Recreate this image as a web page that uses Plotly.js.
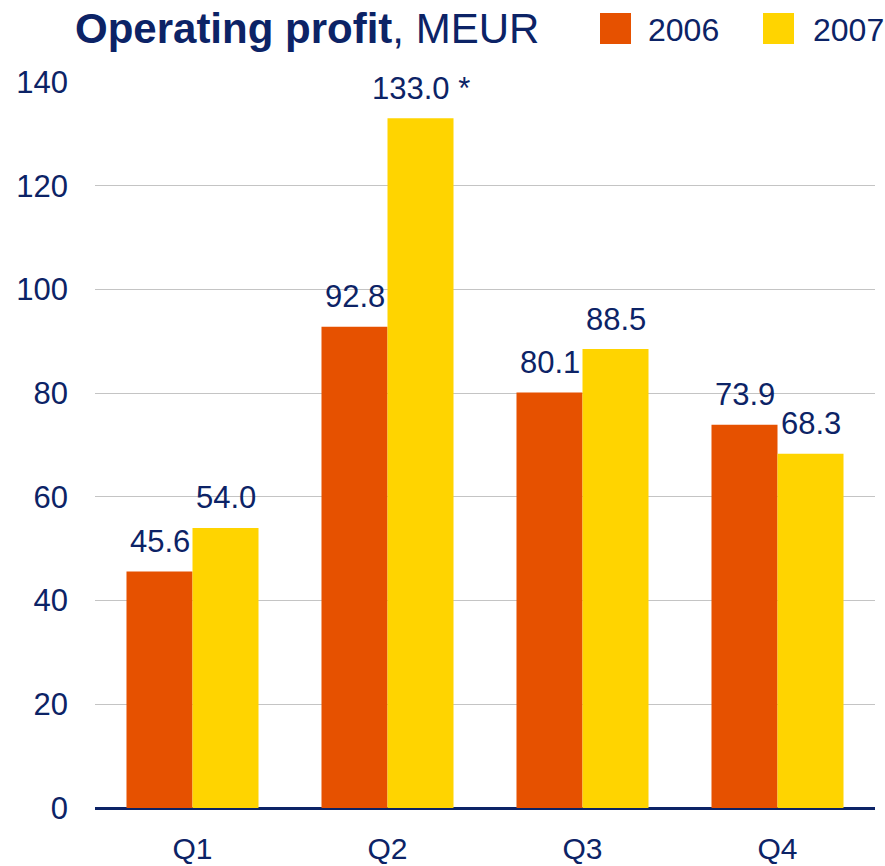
<!DOCTYPE html>
<html><head><meta charset="utf-8">
<script src="https://cdn.plot.ly/plotly-3.0.1.min.js"></script>
<style>html,body{margin:0;padding:0;background:#fff}#c{width:885px;height:866px}</style>
</head><body><div id="c"></div>
<script>
const categories = ["Q1", "Q2", "Q3", "Q4"];
const seriesNames = ["2006", "2007"];
const values2006 = [45.6, 92.8, 80.1, 73.9];
const values2007 = [54.0, 133.0, 88.5, 68.3];
const labels2006 = ["45.6", "92.8", "80.1", "73.9"];
const labels2007 = ["54.0", "133.0 *", "88.5", "68.3"];
const yTicks = [0, 20, 40, 60, 80, 100, 120, 140];

const navy = "#0c2366";
const colors = ["#E65100", "#FFD400"];
const font = "Liberation Sans, Arial, sans-serif";

const traces = [
  {type: "bar", name: seriesNames[0], x: categories, y: values2006, marker: {color: colors[0]}, hoverinfo: "skip"},
  {type: "bar", name: seriesNames[1], x: categories, y: values2007, marker: {color: colors[1]}, hoverinfo: "skip"}
];

const annotations = [];
const series = [[values2006, labels2006, -33], [values2007, labels2007, 33]];
series.forEach(([vals, labs, dx]) => {
  vals.forEach((v, i) => {
    annotations.push({x: categories[i], y: v, xref: "x", yref: "y", text: labs[i], showarrow: false,
      xshift: dx, yshift: 30, yanchor: "middle", xanchor: "center", font: {family: font, size: 31, color: navy}});
  });
});

const layout = {
  width: 885, height: 866,
  margin: {l: 95, r: 10, t: 82, b: 58},
  paper_bgcolor: "#fff", plot_bgcolor: "#fff",
  barmode: "group", bargap: 0.323, bargroupgap: 0,
  showlegend: false,
  font: {family: font, color: navy},
  title: {text: "<b>Operating profit</b>, MEUR", xref: "container", yref: "container",
    x: 75 / 885, xanchor: "left", y: 1 - 28 / 866, yanchor: "middle",
    font: {family: font, size: 42, color: navy}},
  xaxis: {type: "category", range: [-0.5, 3.5], showgrid: false, zeroline: false, showline: false,
    ticks: "", tickfont: {family: font, size: 30, color: navy}, ticklabelstandoff: 20},
  yaxis: {range: [0, 140], tickvals: yTicks, ticktext: yTicks.map(String), showgrid: true,
    gridcolor: "#c4c4c4", gridwidth: 1, zeroline: true, zerolinecolor: navy, zerolinewidth: 3,
    showline: false, ticks: "", tickfont: {family: font, size: 31, color: navy}, ticklabelstandoff: 26},
  annotations: annotations,
  shapes: []
};
// custom legend
const legX = [600, 763];
const legTextX = [647, 812];
seriesNames.forEach((n, k) => {
  layout.shapes.push({type: "rect", xref: "paper", yref: "paper", xsizemode: "pixel", ysizemode: "pixel",
    xanchor: (legX[k] - 95) / 780, yanchor: 1 + 82 / 726, x0: 0, x1: 31, y0: -44, y1: -13,
    line: {width: 0}, fillcolor: colors[k]});
  layout.annotations.push({xref: "paper", yref: "paper", x: (legTextX[k] - 95) / 780, y: 1 + (82 - 30) / 726,
    xanchor: "left", yanchor: "middle", xshift: -1, text: n, showarrow: false, font: {family: font, size: 32, color: navy}});
});
Plotly.newPlot("c", traces, layout, {displayModeBar: false, staticPlot: true});
</script></body></html>
